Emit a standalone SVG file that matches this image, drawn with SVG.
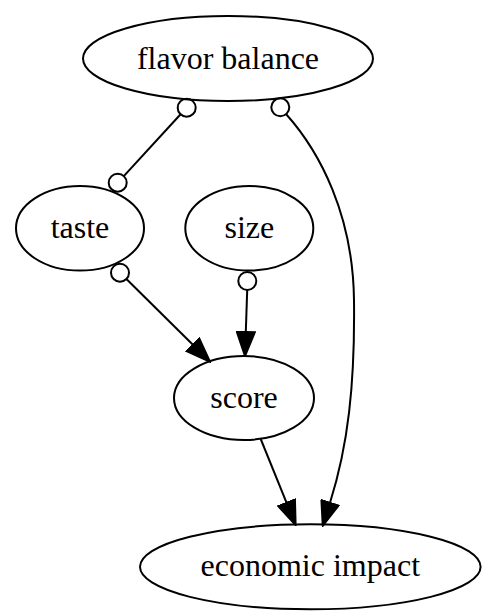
<svg xmlns="http://www.w3.org/2000/svg" width="483" height="613" viewBox="0 0 483 613">
<style>
.node ellipse{fill:none;stroke:#000;stroke-width:2}
.node text{font-family:"Liberation Serif","Times New Roman",serif;font-size:32px;text-anchor:middle;fill:#000}
.edge{fill:none;stroke:#000;stroke-width:2}
.odot{fill:none;stroke:#000;stroke-width:2}
</style>
<defs>
<marker id="arrow" markerUnits="userSpaceOnUse" markerWidth="26" markerHeight="20" viewBox="-1 -1 26 20" refX="0" refY="9" orient="auto">
<path d="M0,0 L24,9 L0,18 Z" fill="#000" stroke="#000" stroke-width="2"/>
</marker>
</defs>
<rect width="483" height="613" fill="#fff"/>
<g id="connectors">
<path class="edge" d="M180.6,114.3 L123.8,176.1"/>
<circle class="odot" cx="186.7" cy="107.7" r="9"/>
<circle class="odot" cx="117.7" cy="182.7" r="9"/>
<path class="edge" d="M126.4,279 L192.9,344.8" marker-end="url(#arrow)"/>
<circle class="odot" cx="120" cy="272.7" r="9"/>
<path class="edge" d="M247.2,290 L245.8,332" marker-end="url(#arrow)"/>
<circle class="odot" cx="247.3" cy="281" r="9"/>
<path class="edge" d="M260.7,439 L286.6,502.8" marker-end="url(#arrow)"/>
<path class="edge" d="M286,114 C320,152 353,215 354,300 C355,385 348,446 330,502.8" marker-end="url(#arrow)"/>
<circle class="odot" cx="280.3" cy="107.3" r="9"/>
</g>
<g id="flavor_balance" class="node">
<ellipse cx="228" cy="58.5" rx="145" ry="42.5"/>
<text x="228" y="68.5">flavor balance</text>
</g>
<g id="taste" class="node">
<ellipse cx="80" cy="228.3" rx="64" ry="42.3"/>
<text x="80" y="237.5">taste</text>
</g>
<g id="size" class="node">
<ellipse cx="249.3" cy="228.3" rx="64" ry="42.3"/>
<text x="249.3" y="237.5">size</text>
</g>
<g id="score" class="node">
<ellipse cx="244" cy="398" rx="70" ry="42"/>
<text x="244" y="407.5">score</text>
</g>
<g id="economic_impact" class="node">
<ellipse cx="310.3" cy="566.8" rx="170.3" ry="42.5"/>
<text x="310.3" y="576">economic impact</text>
</g>
</svg>
